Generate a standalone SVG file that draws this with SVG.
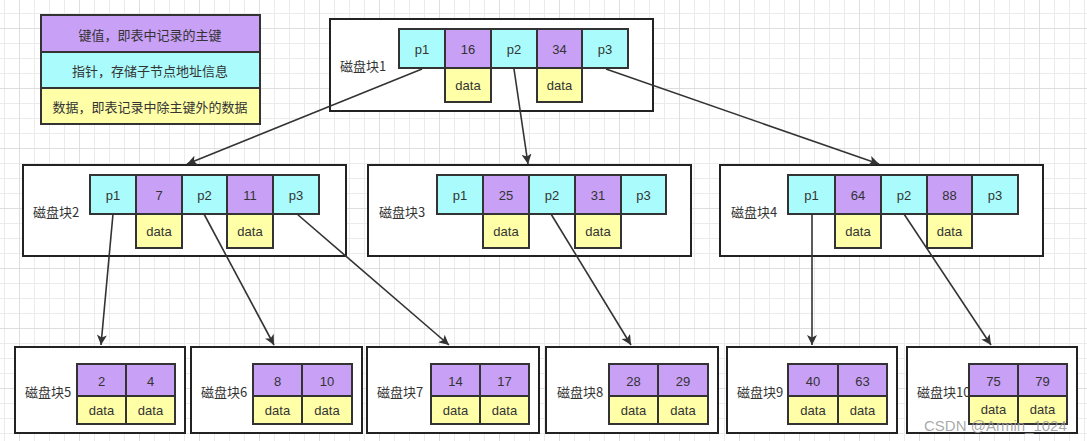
<svg xmlns="http://www.w3.org/2000/svg" width="1087" height="441" viewBox="0 0 1087 441">
<defs>
<pattern id="minor" x="4" y="13" width="15" height="15" patternUnits="userSpaceOnUse">
<path d="M0 0.5H15M0.5 0V15" stroke="#ebebeb" stroke-width="1" fill="none"/>
</pattern>
<pattern id="major" x="19" y="28" width="60" height="60" patternUnits="userSpaceOnUse">
<path d="M0 0.5H60M0.5 0V60" stroke="#dedede" stroke-width="1" fill="none"/>
</pattern>
<marker id="arr" viewBox="0 0 10 10" refX="10" refY="5" markerWidth="11" markerHeight="10" markerUnits="userSpaceOnUse" orient="auto">
<path d="M0 0L10 5L0 10L2.5 5Z" fill="#333"/>
</marker>
</defs>
<style>
text{font-family:"Liberation Sans","Noto Sans CJK SC",sans-serif;fill:#333;font-size:13px}
.c{text-anchor:middle;dominant-baseline:central}
.blk{fill:#fff;stroke:#222;stroke-width:2}
.k{fill:#C8A0F6;stroke:#333;stroke-width:2}
.p{fill:#AAFCFC;stroke:#333;stroke-width:2}
.d{fill:#FFFFA8;stroke:#333;stroke-width:2}
.lab{font-family:"Noto Sans CJK SC",sans-serif;font-size:13px;dominant-baseline:central}
.e{fill:none;stroke:#333;stroke-width:1.6;marker-end:url(#arr)}
</style>
<rect width="1087" height="441" fill="#fff"/>
<rect width="1087" height="441" fill="url(#minor)"/>
<rect width="1087" height="441" fill="url(#major)"/>

<g id="legend">
<rect class="k" x="41" y="15" width="219" height="37"/>
<rect class="p" x="41" y="52" width="219" height="36"/>
<rect class="d" x="41" y="88" width="219" height="36"/>
<text class="c lab" x="150" y="34" text-anchor="middle">键值，即表中记录的主键</text>
<text class="c lab" x="150" y="70" text-anchor="middle">指针，存储子节点地址信息</text>
<text class="c lab" x="150" y="106" text-anchor="middle">数据，即表记录中除主键外的数据</text>
</g>

<g id="block1">
<rect class="blk" x="330" y="19" width="323" height="92"/>
<text class="lab" x="340" y="65">磁盘块1</text>
<rect class="p" x="399" y="29" width="46" height="39"/>
<rect class="k" x="445" y="29" width="46" height="39"/>
<rect class="p" x="491" y="29" width="46" height="39"/>
<rect class="k" x="537" y="29" width="45" height="39"/>
<rect class="p" x="582" y="29" width="46" height="39"/>
<rect class="d" x="445" y="68" width="46" height="34"/>
<rect class="d" x="537" y="68" width="45" height="34"/>
<text class="c" x="422" y="49">p1</text>
<text class="c" x="468" y="49">16</text>
<text class="c" x="514" y="49">p2</text>
<text class="c" x="559.5" y="49">34</text>
<text class="c" x="605" y="49">p3</text>
<text class="c" x="468" y="85">data</text>
<text class="c" x="559.5" y="85">data</text>
</g>

<g id="block2">
<rect class="blk" x="23" y="165" width="323" height="91"/>
<text class="lab" x="33" y="211">磁盘块2</text>
<rect class="p" x="90" y="175" width="46" height="39"/>
<rect class="k" x="136" y="175" width="46" height="39"/>
<rect class="p" x="182" y="175" width="45" height="39"/>
<rect class="k" x="227" y="175" width="46" height="39"/>
<rect class="p" x="273" y="175" width="46" height="39"/>
<rect class="d" x="136" y="214" width="46" height="34"/>
<rect class="d" x="227" y="214" width="46" height="34"/>
<text class="c" x="113" y="195">p1</text>
<text class="c" x="159" y="195">7</text>
<text class="c" x="204.5" y="195">p2</text>
<text class="c" x="250" y="195">11</text>
<text class="c" x="296" y="195">p3</text>
<text class="c" x="159" y="231">data</text>
<text class="c" x="250" y="231">data</text>
</g>

<g id="block3">
<rect class="blk" x="368" y="165" width="323" height="91"/>
<text class="lab" x="379" y="211">磁盘块3</text>
<rect class="p" x="437" y="175" width="46" height="39"/>
<rect class="k" x="483" y="175" width="46" height="39"/>
<rect class="p" x="529" y="175" width="46" height="39"/>
<rect class="k" x="575" y="175" width="46" height="39"/>
<rect class="p" x="621" y="175" width="45" height="39"/>
<rect class="d" x="483" y="214" width="46" height="34"/>
<rect class="d" x="575" y="214" width="46" height="34"/>
<text class="c" x="460" y="195">p1</text>
<text class="c" x="506" y="195">25</text>
<text class="c" x="552" y="195">p2</text>
<text class="c" x="598" y="195">31</text>
<text class="c" x="643.5" y="195">p3</text>
<text class="c" x="506" y="231">data</text>
<text class="c" x="598" y="231">data</text>
</g>

<g id="block4">
<rect class="blk" x="720" y="165" width="323" height="91"/>
<text class="lab" x="731" y="211">磁盘块4</text>
<rect class="p" x="788" y="175" width="47" height="39"/>
<rect class="k" x="835" y="175" width="46" height="39"/>
<rect class="p" x="881" y="175" width="46" height="39"/>
<rect class="k" x="927" y="175" width="45" height="39"/>
<rect class="p" x="972" y="175" width="46" height="39"/>
<rect class="d" x="835" y="214" width="46" height="34"/>
<rect class="d" x="927" y="214" width="45" height="34"/>
<text class="c" x="811.5" y="195">p1</text>
<text class="c" x="858" y="195">64</text>
<text class="c" x="904" y="195">p2</text>
<text class="c" x="949.5" y="195">88</text>
<text class="c" x="995" y="195">p3</text>
<text class="c" x="858" y="231">data</text>
<text class="c" x="949.5" y="231">data</text>
</g>

<g id="block5">
<rect class="blk" x="15" y="347" width="170" height="86"/>
<text class="lab" x="25" y="391">磁盘块5</text>
<rect class="k" x="77" y="364" width="49" height="32"/>
<rect class="k" x="126" y="364" width="49" height="32"/>
<rect class="d" x="77" y="396" width="49" height="28"/>
<rect class="d" x="126" y="396" width="49" height="28"/>
<text class="c" x="101.5" y="381">2</text>
<text class="c" x="150.5" y="381">4</text>
<text class="c" x="101.5" y="410">data</text>
<text class="c" x="150.5" y="410">data</text>
</g>

<g id="block6">
<rect class="blk" x="191" y="347" width="171" height="86"/>
<text class="lab" x="201" y="391">磁盘块6</text>
<rect class="k" x="253" y="364" width="49" height="32"/>
<rect class="k" x="302" y="364" width="50" height="32"/>
<rect class="d" x="253" y="396" width="49" height="28"/>
<rect class="d" x="302" y="396" width="50" height="28"/>
<text class="c" x="277.5" y="381">8</text>
<text class="c" x="327" y="381">10</text>
<text class="c" x="277.5" y="410">data</text>
<text class="c" x="327" y="410">data</text>
</g>

<g id="block7">
<rect class="blk" x="367" y="347" width="172" height="86"/>
<text class="lab" x="377" y="391">磁盘块7</text>
<rect class="k" x="431" y="364" width="49" height="32"/>
<rect class="k" x="480" y="364" width="49" height="32"/>
<rect class="d" x="431" y="396" width="49" height="28"/>
<rect class="d" x="480" y="396" width="49" height="28"/>
<text class="c" x="455.5" y="381">14</text>
<text class="c" x="504.5" y="381">17</text>
<text class="c" x="455.5" y="410">data</text>
<text class="c" x="504.5" y="410">data</text>
</g>

<g id="block8">
<rect class="blk" x="546" y="347" width="172" height="86"/>
<text class="lab" x="557" y="391">磁盘块8</text>
<rect class="k" x="609" y="364" width="49" height="32"/>
<rect class="k" x="658" y="364" width="50" height="32"/>
<rect class="d" x="609" y="396" width="49" height="28"/>
<rect class="d" x="658" y="396" width="50" height="28"/>
<text class="c" x="633.5" y="381">28</text>
<text class="c" x="683" y="381">29</text>
<text class="c" x="633.5" y="410">data</text>
<text class="c" x="683" y="410">data</text>
</g>

<g id="block9">
<rect class="blk" x="727" y="347" width="170" height="86"/>
<text class="lab" x="737" y="391">磁盘块9</text>
<rect class="k" x="788" y="364" width="50" height="32"/>
<rect class="k" x="838" y="364" width="49" height="32"/>
<rect class="d" x="788" y="396" width="50" height="28"/>
<rect class="d" x="838" y="396" width="49" height="28"/>
<text class="c" x="813" y="381">40</text>
<text class="c" x="862.5" y="381">63</text>
<text class="c" x="813" y="410">data</text>
<text class="c" x="862.5" y="410">data</text>
</g>

<g id="block10">
<rect class="blk" x="907" y="347" width="170" height="86"/>
<text class="lab" x="917" y="391">磁盘块10</text>
<rect class="k" x="969" y="364" width="49" height="32"/>
<rect class="k" x="1018" y="364" width="49" height="32"/>
<rect class="d" x="969" y="396" width="49" height="28"/>
<rect class="d" x="1018" y="396" width="49" height="28"/>
<text class="c" x="993.5" y="381">75</text>
<text class="c" x="1042.5" y="381">79</text>
<text class="c" x="993.5" y="409">data</text>
<text class="c" x="1042.5" y="409">data</text>
</g>

<g id="connectors">
<path class="e" d="M422 69L187 164"/>
<path class="e" d="M514 69L528 164"/>
<path class="e" d="M606 69L879 164"/>
<path class="e" d="M113 214L101 345"/>
<path class="e" d="M204 214L274 345"/>
<path class="e" d="M297 214L449 345"/>
<path class="e" d="M551 214L631 345"/>
<path class="e" d="M812 214L812 345"/>
<path class="e" d="M904 214L991 345"/>
</g>

<text x="924" y="431" style="font-size:15px;fill:#9a9a9a;fill-opacity:0.85">CSDN @Armin_1024</text>
</svg>
